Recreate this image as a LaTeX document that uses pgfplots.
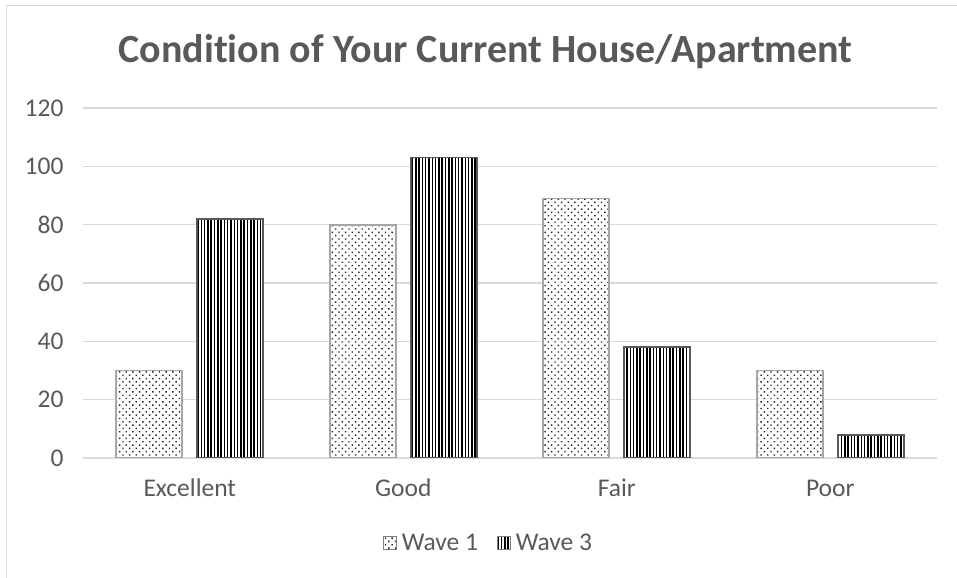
\documentclass[border=0pt]{standalone}
\usepackage{pgfplots}
\pgfplotsset{compat=1.18}
\usepackage{fontspec}
\setmainfont{Carlito}[Ligatures=NoCommon]
\usetikzlibrary{patterns.meta}
\definecolor{txt}{HTML}{595959}
\definecolor{grd}{HTML}{D9D9D9}
\begin{document}
\begin{tikzpicture}[x=1bp,y=1bp]
\useasboundingbox (0,0) rectangle (957,578);
\draw[grd, line width=1.5bp] (6.5,0) -- (6.5,572.5) -- (957,572.5);
\node[anchor=base, text=txt, font=\bfseries\fontsize{40bp}{46bp}\selectfont] at (485.5,515) {Condition of Your Current House/Apartment};
\begin{axis}[
  at={(83bp,120bp)}, anchor=south west,
  scale only axis, width=854bp, height=350bp,
  xmin=-0.5, xmax=3.5, ymin=0, ymax=120,
  ytick={0,20,...,120},
  xtick={0,1,2,3},
  xticklabels={Excellent,Good,Fair,Poor},
  axis line style={draw=none},
  major tick length=0pt,
  ymajorgrids, major grid style={grd, line width=1.5bp},
  ybar=15bp, bar width=66bp,
  /pgf/number format/assume math mode=true,
  tick label style={font=\fontsize{25.5bp}{30bp}\selectfont, text=txt},
  yticklabel style={xshift=-16bp},
  xticklabel style={anchor=base, yshift=-39bp},
  legend style={at={(0.4766,-0.243)}, anchor=center, draw=none, fill=none,
    font=\fontsize{25.5bp}{30bp}\selectfont, text=txt, legend columns=2,
    nodes={inner xsep=5bp},
    /tikz/every even column/.append style={column sep=14bp}},
  legend image code/.code={\draw[#1, draw=gray, line width=0.8bp] (0bp,-6bp) rectangle (13bp,7bp);},
]
\addplot[draw=gray!70, line width=1.8bp, fill=white, postaction={pattern={Dots[angle=45,distance=4.7bp,radius=1bp]}, pattern color=black!85}]
  coordinates {(0,30) (1,80) (2,89) (3,30)};
\addplot[draw=gray!70!black, line width=1.8bp, fill=white, postaction={pattern={Lines[angle=90,distance=3.3bp,line width=1.5bp]}, pattern color=black}]
  coordinates {(0,82) (1,103) (2,38) (3,8)};
\legend{Wave 1, Wave 3}
\end{axis}
\end{tikzpicture}
\end{document}
